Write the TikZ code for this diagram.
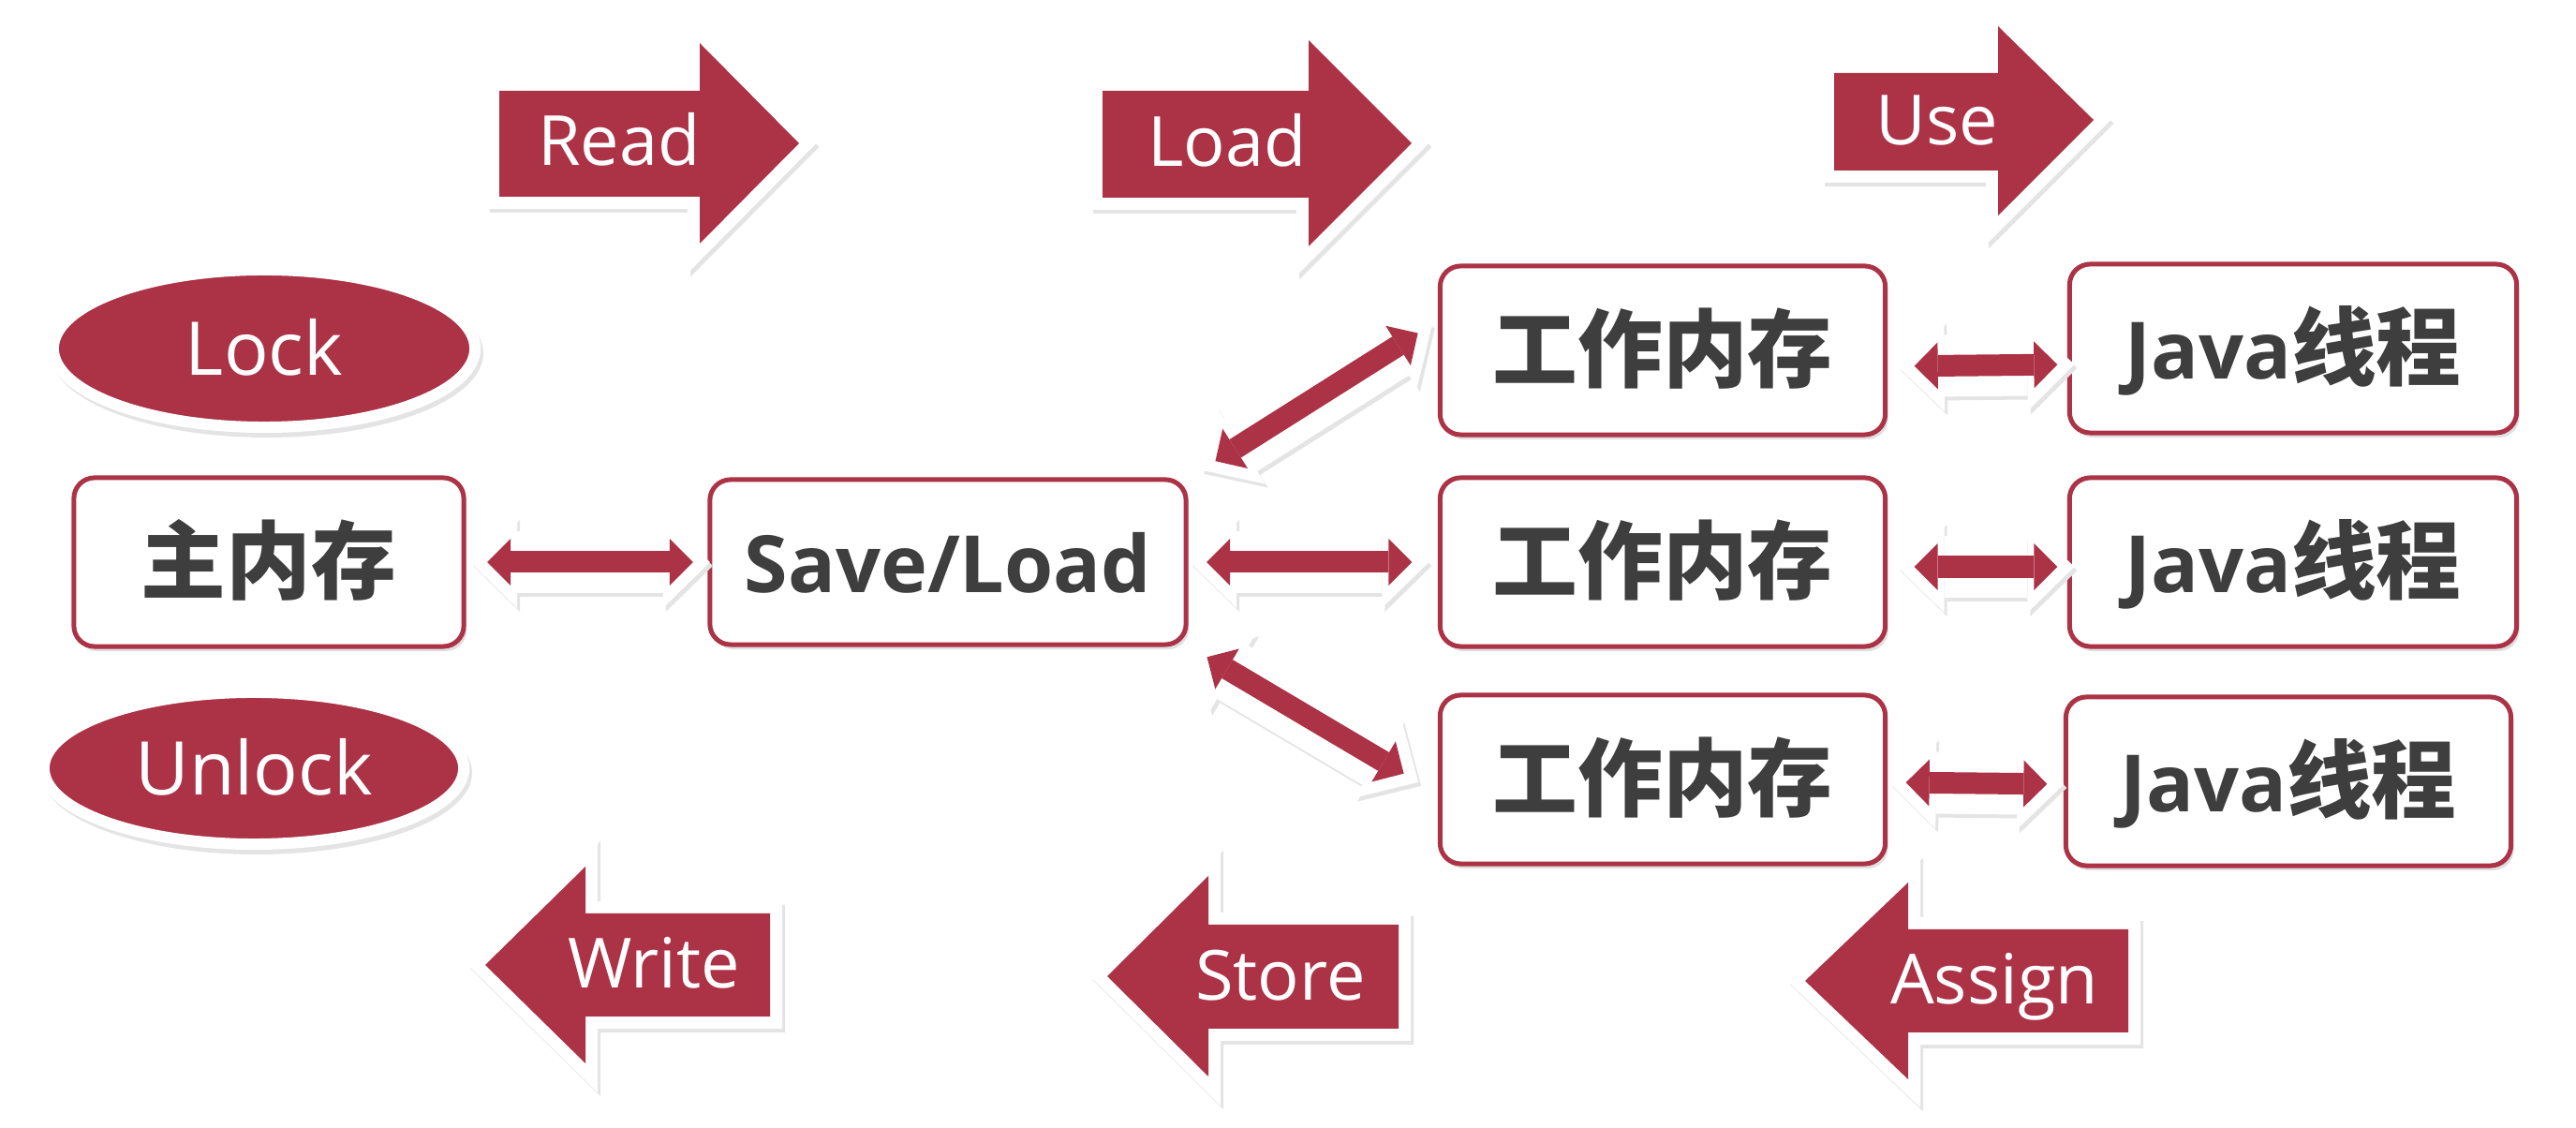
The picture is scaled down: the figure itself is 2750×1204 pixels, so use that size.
\documentclass[tikz,border=0pt]{standalone}
\usepackage{fontspec}
\setmainfont{Open Sans}
\newfontfamily\cjk{Noto Sans CJK SC}
\newcommand\zhtxt[1]{{\fontsize{25.8pt}{28pt}\selectfont\cjk #1}}
\usetikzlibrary{arrows.meta,shapes.geometric,shadows,calc}
\definecolor{jred}{RGB}{172,50,70}
\definecolor{txt}{RGB}{62,62,62}
\definecolor{shd}{RGB}{228,228,228}
\tikzset{
  box/.style={draw=jred, line width=0.05cm, fill=white, rounded corners=0.22cm,
    inner sep=0pt, outer sep=0pt, text=txt, minimum width=4.75cm, minimum height=1.80cm,
    text height=0.64cm, text depth=0cm,
    font=\fontsize{24pt}{28pt}\selectfont\bfseries,
    drop shadow={shadow xshift=0.03cm, shadow yshift=-0.05cm, fill=black, opacity=0.12}},
  oval/.style={ellipse, draw=white, line width=0.12cm, fill=jred, inner sep=0pt, outer sep=0pt,
    text=white, text height=0.56cm, text depth=0cm, font=\fontsize{22.5pt}{27pt}\selectfont},
  barrow/.style={line join=miter, fill=jred,
    preaction={draw=shd, fill=shd, line width=0.26cm, transform canvas={xshift=0.03cm,yshift=-0.04cm}},
    preaction={draw=white, line width=0.26cm}},
  atext/.style={anchor=base, text=white, inner sep=0pt, font=\fontsize{21pt}{25pt}\selectfont},
  dbl/.style 2 args={draw=jred, line width=0.23cm,
    arrows={Triangle[length=0.25cm,width=0.50cm,line width=0pt]-Triangle[length=0.25cm,width=0.50cm,line width=0pt]},
    shorten <=#1, shorten >=#2,
    preaction={draw=shd, line width=0.66cm, transform canvas={xshift=0.03cm,yshift=-0.04cm},
      arrows={Triangle[length=0.5cm,width=0.98cm,line width=0pt]-Triangle[length=0.5cm,width=0.98cm,line width=0pt]},
      shorten <=#1-0.18cm, shorten >=#2-0.18cm},
    preaction={draw=white, line width=0.66cm,
      arrows={Triangle[length=0.5cm,width=0.98cm,line width=0pt]-Triangle[length=0.5cm,width=0.98cm,line width=0pt]},
      shorten <=#1-0.18cm, shorten >=#2-0.18cm}}
}
\begin{document}
\begin{tikzpicture}[x=0.01cm,y=-0.01cm]
\useasboundingbox (0,0) rectangle (2750,1204);
\fill[white] (0,0) rectangle (2750,1204);

% top block arrows
\path[barrow] (533,97) -- (747,97) -- (747,46) -- (853,153) -- (747,260) -- (747,210) -- (533,210) -- cycle;
\node[atext] (read) at (661,177) {Read};
\path[barrow] (1177,97) -- (1397,97) -- (1397,43) -- (1507,153) -- (1397,263) -- (1397,211) -- (1177,211) -- cycle;
\node[atext] (load) at (1310,178) {Load};
\path[barrow] (1958,78) -- (2133,78) -- (2133,28) -- (2235,128) -- (2133,230) -- (2133,182) -- (1958,182) -- cycle;
\node[atext] (use) at (2068,155) {Use};

% bottom block arrows
\path[barrow] (822,975) -- (625,975) -- (625,925) -- (518,1030) -- (625,1135) -- (625,1085) -- (822,1085) -- cycle;
\node[atext] (write) at (698,1055) {Write};
\path[barrow] (1493,987) -- (1290,987) -- (1290,935) -- (1182,1042) -- (1290,1149) -- (1290,1098) -- (1493,1098) -- cycle;
\node[atext] (store) at (1367,1068) {Store};
\path[barrow] (2272,992) -- (2037,992) -- (2037,942) -- (1927,1047) -- (2037,1152) -- (2037,1102) -- (2272,1102) -- cycle;
\node[atext] (assign) at (2129,1072) {Assign};

% lock / unlock
\fill[shd] (285,377) ellipse [x radius=231, y radius=90];
\node[oval, minimum width=4.50cm, minimum height=1.68cm] (lock) at (282,372) {Lock};
\fill[shd] (274,825) ellipse [x radius=230, y radius=87];
\node[oval, minimum width=4.48cm, minimum height=1.62cm] (unlock) at (271,820) {Unlock};

% boxes
\node[box, minimum width=4.16cm] (mm) at (287,600) {\zhtxt{主内存}};
\node[box, minimum width=5.08cm, minimum height=1.76cm] (sl) at (1012,600) {Save/Load};
\node[box] (w1) at (1775,374) {\zhtxt{工作内存}};
\node[box] (w2) at (1775,600) {\zhtxt{工作内存}};
\node[box] (w3) at (1775,832) {\zhtxt{工作内存}};
\node[box, minimum width=4.77cm] (j1) at (2448,372) {Java\zhtxt{线程}};
\node[box, minimum width=4.77cm] (j2) at (2448,600) {Java\zhtxt{线程}};
\node[box] (j3) at (2443,834) {Java\zhtxt{线程}};

% connectors
\draw[dbl={0.25cm}{0.18cm}] (mm.east) -- (sl.west);
\draw[dbl={0.37cm}{0.28cm}] (sl.north east) -- (w1.172);
\draw[dbl={0.22cm}{0.30cm}] (sl.east) -- (w2.west);
\draw[dbl={0.26cm}{0.45cm}] (sl.south east) -- (w3.184);
\draw[dbl={0.31cm}{0.13cm}] ([yshift=-0.17cm]w1.east) -- ([yshift=-0.17cm]j1.west);
\draw[dbl={0.31cm}{0.13cm}] ([yshift=-0.05cm]w2.east) -- ([yshift=-0.05cm]j2.west);
\draw[dbl={0.22cm}{0.20cm}] ([yshift=-0.03cm]w3.east) -- ([yshift=-0.03cm]j3.west);
\end{tikzpicture}
\end{document}
